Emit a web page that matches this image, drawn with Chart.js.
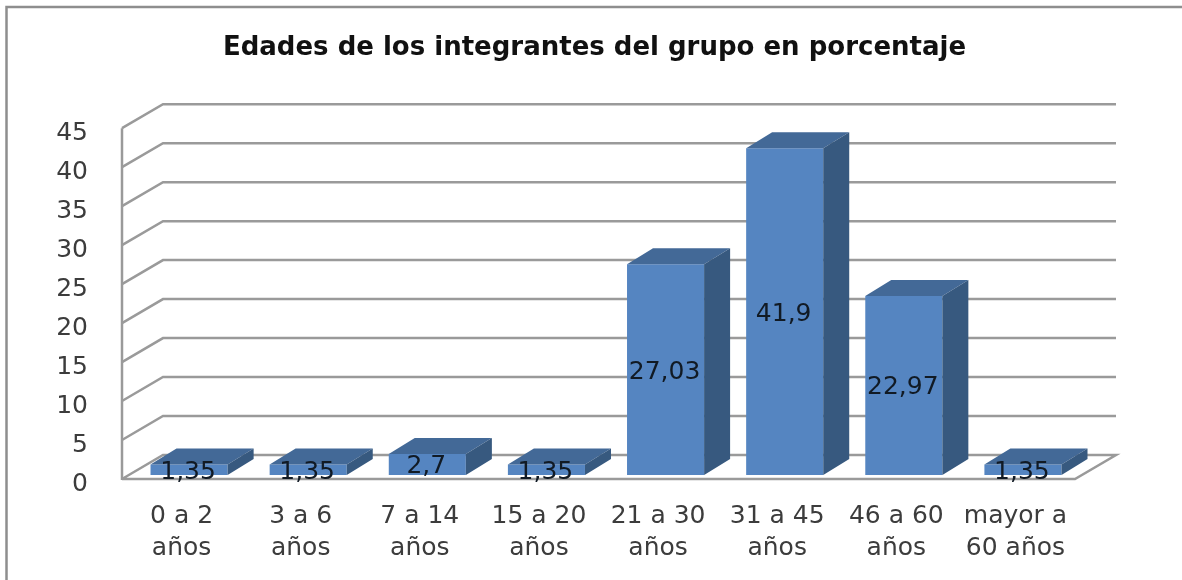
<!DOCTYPE html>
<html lang="es">
<head>
<meta charset="utf-8">
<title>Edades de los integrantes del grupo</title>
<script src="https://cdn.jsdelivr.net/npm/chart.js@4"></script>
<style>
    html, body { margin: 0; padding: 0; background: #fff; overflow: hidden; }
    canvas { display: block; filter: blur(0.5px); }
</style>
</head>
<body>
<canvas id="edadesChart" width="1182" height="580"></canvas>
<script>
const chartTitle = 'Edades de los integrantes del grupo en porcentaje';
const categories = [
    ['0 a 2', 'años'], ['3 a 6', 'años'], ['7 a 14', 'años'], ['15 a 20', 'años'],
    ['21 a 30', 'años'], ['31 a 45', 'años'], ['46 a 60', 'años'], ['mayor a', '60 años']
];
const percentages = [1.35, 1.35, 2.7, 1.35, 27.03, 41.9, 22.97, 1.35];

const fontFamily = '"DejaVu Sans"';
const gridColor = '#9a9a9a';
const depth = { x: 41, y: 24 };      // wall and floor depth
const barShift = { x: 7.5, y: 4 };   // bars stand a bit behind the front edge
const barDepth = { x: 26, y: 16 };

function poly(ctx, points, fill) {
    ctx.beginPath();
    points.forEach((p, i) => i ? ctx.lineTo(p[0], p[1]) : ctx.moveTo(p[0], p[1]));
    ctx.closePath();
    ctx.fillStyle = fill;
    ctx.fill();
}

// frame, walls and floor
const wallsPlugin = {
    id: 'walls',
    beforeDatasetsDraw(chart) {
        const ctx = chart.ctx;
        const area = chart.chartArea;
        const yScale = chart.scales.y;
        ctx.save();
        ctx.strokeStyle = '#8e8e8e';
        ctx.lineWidth = 2.5;
        ctx.beginPath();
        ctx.moveTo(6.5, chart.height);
        ctx.lineTo(6.5, 7);
        ctx.lineTo(chart.width, 7);
        ctx.stroke();

        ctx.strokeStyle = gridColor;
        ctx.lineWidth = 2.5;
        ctx.lineJoin = 'miter';
        yScale.ticks.forEach(tick => {
            const y = yScale.getPixelForValue(tick.value);
            ctx.beginPath();
            ctx.moveTo(area.left, y);
            ctx.lineTo(area.left + depth.x, y - depth.y);
            ctx.lineTo(area.right + depth.x, y - depth.y);
            if (tick.value === 0) {
                ctx.lineTo(area.right, y);
                ctx.lineTo(area.left, y);
            }
            ctx.stroke();
        });
        ctx.beginPath();
        ctx.moveTo(area.left, area.top);
        ctx.lineTo(area.left, area.bottom + 1);
        ctx.stroke();
        ctx.restore();
    },
    beforeDatasetDraw(chart) {
        chart.ctx.save();
        chart.ctx.translate(barShift.x, -barShift.y);
    },
    afterDatasetDraw(chart, args) {
        const ctx = chart.ctx;
        args.meta.data.forEach(bar => {
            const half = bar.width / 2;
            const l = bar.x - half;
            const r = bar.x + half;
            poly(ctx, [[l, bar.y], [r, bar.y], [r + barDepth.x, bar.y - barDepth.y], [l + barDepth.x, bar.y - barDepth.y]], '#436997');
            poly(ctx, [[r, bar.y], [r + barDepth.x, bar.y - barDepth.y], [r + barDepth.x, bar.base - barDepth.y], [r, bar.base]], '#37597f');
        });
        ctx.restore();
    },
    afterDatasetsDraw(chart) {
        const ctx = chart.ctx;
        ctx.save();
        ctx.font = '25px ' + fontFamily;
        ctx.fillStyle = '#111a24';
        ctx.textAlign = 'center';
        ctx.textBaseline = 'middle';
        chart.getDatasetMeta(0).data.forEach((bar, i) => {
            const text = String(percentages[i]).replace('.', ',');
            ctx.fillText(text, bar.x + barShift.x - 1, (bar.y + bar.base) / 2 - barShift.y + 2.5);
        });
        ctx.restore();
    }
};

new Chart(document.getElementById('edadesChart'), {
    type: 'bar',
    data: {
        labels: categories,
        datasets: [{
            label: 'Porcentaje',
            data: percentages,
            backgroundColor: '#5585c1',
            borderWidth: 0,
            categoryPercentage: 1,
            barPercentage: 0.647,
            clip: false
        }]
    },
    options: {
        responsive: false,
        animation: false,
        layout: { padding: { left: 7 } },
        plugins: {
            legend: { display: false },
            tooltip: { enabled: false },
            title: {
                display: true,
                text: chartTitle,
                color: '#111',
                font: { family: fontFamily, size: 26, weight: 'bold' },
                padding: { top: 33, bottom: 64 }
            }
        },
        scales: {
            x: {
                grid: { display: false, drawTicks: false },
                border: { display: false },
                afterFit: scale => { scale.height = 101; },
                ticks: {
                    color: '#3c3c3c',
                    padding: 21,
                    maxRotation: 0,
                    autoSkip: false,
                    font: { family: fontFamily, size: 25, lineHeight: 1.28 }
                }
            },
            y: {
                min: 0,
                max: 45,
                grid: { display: false, drawTicks: false },
                border: { display: false },
                afterFit: scale => { scale.width = 115; },
                ticks: {
                    stepSize: 5,
                    color: '#3c3c3c',
                    padding: 34,
                    labelOffset: 5,
                    font: { family: fontFamily, size: 25 }
                }
            },
            // empty axis, only keeps the room right of the floor
            rightSpace: {
                position: 'right',
                min: 0,
                max: 45,
                grid: { display: false, drawTicks: false },
                border: { display: false },
                ticks: { display: false },
                afterFit: scale => { scale.width = 107; }
            }
        }
    },
    plugins: [wallsPlugin]
});
</script>
</body>
</html>
